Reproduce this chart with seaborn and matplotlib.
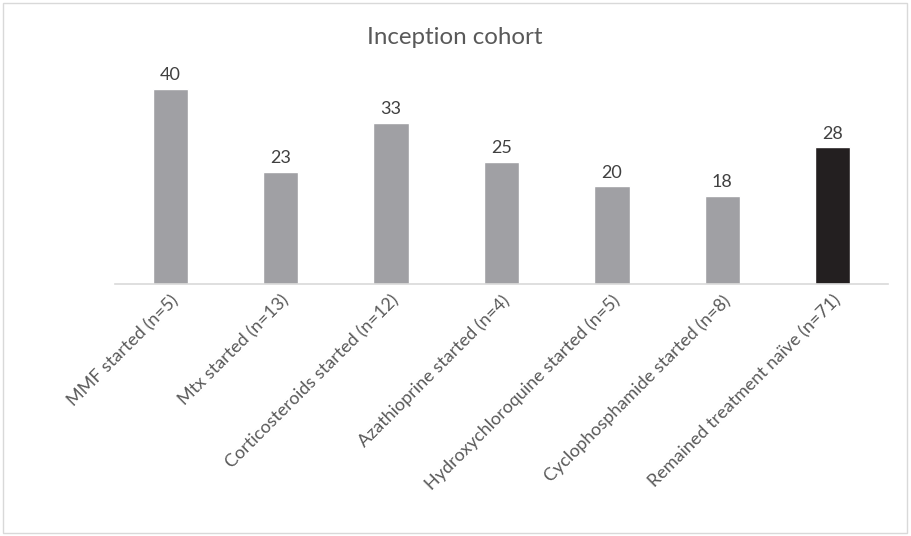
import matplotlib
matplotlib.use("Agg")
import matplotlib.pyplot as plt
import seaborn as sns
import pandas as pd
from matplotlib.patches import Rectangle

categories = ["MMF started (n=5)", "Mtx started (n=13)", "Corticosteroids started (n=12)",
              "Azathioprine started (n=4)", "Hydroxychloroquine started (n=5)",
              "Cyclophosphamide started (n=8)", "Remained treatment naïve (n=71)"]
values = [40, 23, 33, 25, 20, 18, 28]
bar_colors = ["#A0A0A4"] * 6 + ["#231F20"]

sns.set_theme(style="white")
plt.rcParams['font.family'] = ['Lato', 'DejaVu Sans']

df = pd.DataFrame({"cat": categories, "val": values})

fig = plt.figure(figsize=(9.11, 5.36), dpi=100)
ax = fig.add_axes([115/911, 1-284/536, (888-115)/911, (284-64.6)/536])
sns.barplot(data=df, x="cat", y="val", hue="cat", palette=bar_colors, legend=False,
            width=0.32, ax=ax, saturation=1)
ax.set_ylim(0, 45)
ax.set_xlim(-0.5, len(categories) - 0.5)
for s in ["top", "right", "left"]:
    ax.spines[s].set_visible(False)
ax.spines["bottom"].set_color("#D9D9D9")
ax.spines["bottom"].set_linewidth(1.2)
ax.set_yticks([])
ax.set_xlabel("")
ax.set_ylabel("")
ax.tick_params(axis="x", length=0, pad=6)
ax.set_xticks(range(len(categories)))
ax.set_xticklabels(categories, rotation=45, ha="right", rotation_mode="anchor",
                   fontsize=13, color="#595959")
for i, v in enumerate(values):
    ax.text(i, v + 1.2, str(v), ha="center", va="bottom", fontsize=13, color="#404040")

fig.text(455/911, 1-38/536, "Inception cohort", ha="center", va="center",
         fontsize=17.4, color="#595959")
fig.patches.append(Rectangle((3/911, 3/536), 904/911, 530/536, transform=fig.transFigure,
                             fill=False, edgecolor="#D9D9D9", linewidth=1))
fig.savefig("out.png", dpi=100)
